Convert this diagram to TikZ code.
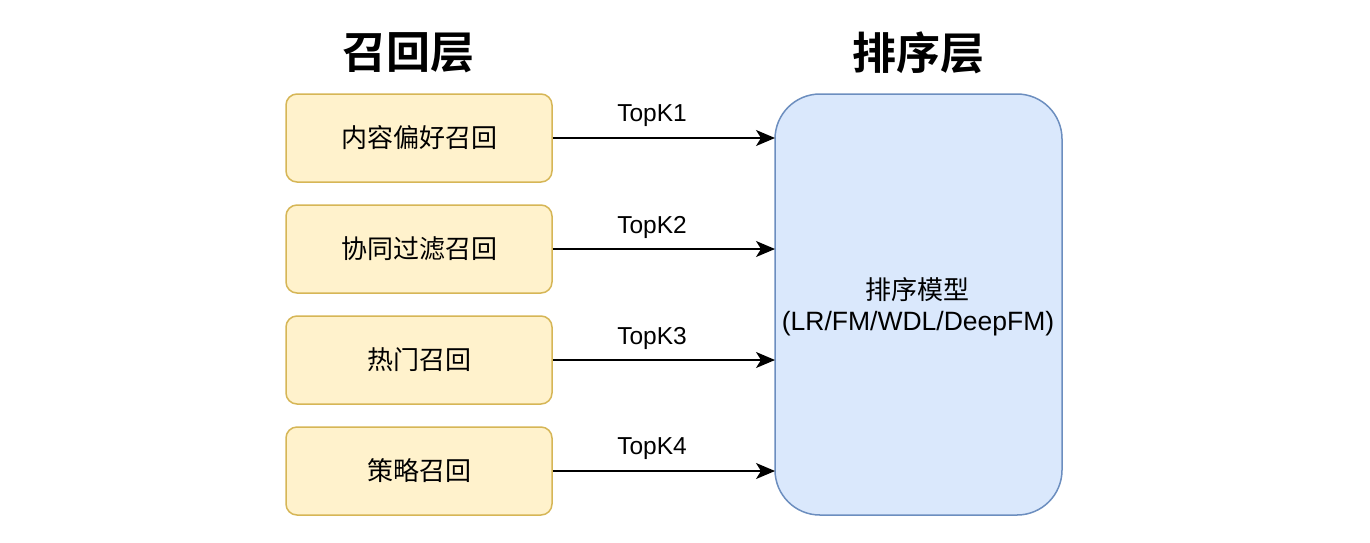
\documentclass[tikz,border=0pt]{standalone}
\usepackage{fontspec}
\setmainfont{Liberation Sans}
\newfontfamily\cjk{Noto Sans CJK SC}
\newfontfamily\cjkbold{Noto Sans CJK SC}[BoldFont={* Bold}]
\usetikzlibrary{arrows.meta}
\definecolor{ylwfill}{HTML}{FFF2CC}
\definecolor{ylwline}{HTML}{D6B656}
\definecolor{bluefill}{HTML}{DAE8FC}
\definecolor{blueline}{HTML}{6C8EBF}
\tikzset{
  recallbox/.style={draw=ylwline, fill=ylwfill, line width=1.5pt, rounded corners=11pt,
    minimum width=266pt, minimum height=88pt, inner sep=0pt,
    font=\cjk\fontsize{26}{30}\selectfont},
  rankbox/.style={draw=blueline, fill=bluefill, line width=1.5pt, rounded corners=45pt,
    minimum width=287pt, minimum height=421pt, inner sep=0pt, align=center},
  titletext/.style={font=\cjkbold\bfseries\fontsize{44}{52}\selectfont},
  conn/.style={line width=1.5pt, -{Stealth[length=19pt,width=16pt,inset=5pt]}},
  klabel/.style={font=\fontsize{24.5}{28}\selectfont, inner sep=0pt}
}
\begin{document}
\begin{tikzpicture}[x=1pt,y=-1pt]
\useasboundingbox[fill=white] (0,0) rectangle (1370,542);
\node[titletext] (t1) at (408,53) {召回层};
\node[titletext] (t2) at (918,53) {排序层};
\node[recallbox] (b1) at (419,138) {内容偏好召回};
\node[recallbox] (b2) at (419,249) {协同过滤召回};
\node[recallbox] (b3) at (419,360) {热门召回};
\node[recallbox] (b4) at (419,471) {策略召回};
\node[rankbox] (r) at (918.5,304.5) {};
\node[font=\cjk\fontsize{26}{30}\selectfont] (rt1) at (917,290) {排序模型};
\node[font=\fontsize{26.5}{30}\selectfont] (rt2) at (918,324) {(LR/FM/WDL/DeepFM)};
\foreach \i/\y in {1/138,2/249,3/360,4/471}{
  \coordinate (e\i) at (775,\y);
  \draw[conn] (b\i.east) -- (e\i);
  \node[klabel] (k\i) at (652,\y-22) {TopK\i};
}
\end{tikzpicture}
\end{document}
